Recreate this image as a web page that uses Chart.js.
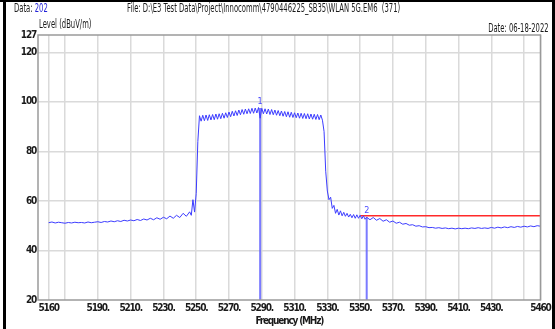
<!DOCTYPE html>
<html>
<head>
<meta charset="utf-8">
<script src="https://cdn.jsdelivr.net/npm/chart.js@4/dist/chart.umd.min.js"></script>
<style>
  html, body { margin: 0; padding: 0; background: #fff; }
  #wrap { position: relative; width: 555px; height: 329px; overflow: hidden; background: #fff; }
  canvas { position: absolute; left: 0; top: 0; }
  .t { position: absolute; font-family: "Liberation Sans Narrow", "DejaVu Sans Condensed", "Liberation Sans", sans-serif; font-size: 11.5px; color: #1a1a1a; white-space: pre; line-height: 13px; transform: scaleX(0.66); transform-origin: 0 50%; }
  .bar { position: absolute; background: #000; }
</style>
</head>
<body>
<div id="wrap">
  <canvas id="c" width="555" height="329"></canvas>
  <div class="bar" style="left:0;top:0;width:555px;height:2px;"></div>
  <div class="bar" style="left:3px;top:0;width:3px;height:329px;"></div>
  <div class="bar" style="left:552px;top:0;width:3px;height:329px;"></div>
  <div class="t" style="left:14px;top:2px;">Data: <span style="color:#2323d8">202</span></div>
  <div class="t" style="left:127px;top:2px;">File: D:\E3 Test Data\Project\Innocomm\4790446225_SB35\WLAN 5G.EM6  (371)</div>
  <div class="t" style="right:6px;top:22px;transform-origin:100% 50%;">Date: 06-18-2022</div>
  <div class="t" style="left:39px;top:18px;">Level (dBuV/m)</div>
</div>
<script>
// ---- data ----
const traceFreq = [
  5160,5162,5164,5166,5168,5170,5172,5174,5176,5178,5180,5182,5184,5186,5188,
  5190,5192,5194,5196,5198,5200,5202,5204,5206,5208,5210,5212,5214,5216,5218,
  5220,5222,5224,5226,5228,5230,5232,5234,5236,5238,5240,5242,5244,5246,5247,
  5248,5249,5250,5251,
  5252,5253,5254,5255,5256,5257,5258,5259,5260,5261,5262,5263,5264,5265,5266,
  5267,5268,5269,5270,5271,5272,5273,5274,5275,5276,5277,5278,5279,5280,5281,
  5282,5283,5284,5285,5286,5287,5288,5289,5290,5291,5292,5293,5294,5295,5296,
  5297,5298,5299,5300,5301,5302,5303,5304,5305,5306,5307,5308,5309,5310,5311,
  5312,5313,5314,5315,5316,5317,5318,5319,5320,5321,5322,5323,5324,5325,5326,
  5327,5328,5329,5330,5331,5332,5333,5334,5335,5336,5337,5338,5339,5340,5341,
  5342,5343,5344,5345,5346,5347,5348,5349,5350,5351,5352,5353,5354,
  5356,5358,5360,5362,5364,5366,5368,5370,5372,5374,5376,5378,5380,5382,5384,
  5386,5388,5390,5392,5394,5396,5398,5400,5402,5404,5406,5408,5410,5412,5414,
  5416,5418,5420,5422,5424,5426,5428,5430,5432,5434,5436,5438,5440,5442,5444,
  5446,5448,5450,5452,5454,5456,5458,5460
];
const traceLevel = [
  51.2,51.5,51.1,51.4,51.2,51.0,51.3,51.1,51.4,51.2,51.3,51.1,51.5,51.2,51.4,
  51.6,51.3,51.7,51.5,51.9,51.6,52.0,51.7,52.2,51.9,52.3,52.0,52.5,52.1,52.7,
  52.3,53.0,52.4,53.2,52.6,53.4,52.8,53.9,53.0,54.2,53.3,55.0,53.8,55.6,54.2,
  60.5,55.5,63.0,84.0,
  94.4,92.2,94.6,92.4,94.7,92.5,94.8,92.7,94.9,92.8,95.1,93.0,95.2,93.2,95.4,
  93.4,95.6,93.7,95.9,94.0,96.2,94.3,96.4,94.5,96.7,94.8,96.9,95.0,97.1,95.2,
  97.2,95.3,97.4,95.4,97.5,95.5,97.7,93.4,97.4,95.2,97.2,95.1,97.1,94.9,96.9,
  94.8,96.7,94.6,96.5,94.4,96.3,94.2,96.1,94.0,96.0,93.8,95.8,93.7,95.6,93.6,
  95.5,93.4,95.4,93.3,95.3,93.2,95.2,93.1,95.1,93.0,95.0,92.9,94.9,92.8,94.7,
  92.6,88.0,72.0,64.0,60.5,61.5,57.0,58.2,55.0,56.6,54.3,56.0,54.0,55.4,53.8,
  55.0,53.5,54.6,53.2,54.5,53.0,54.4,53.0,54.2,52.8,54.0,52.6,53.4,
  52.4,53.3,52.2,52.9,51.8,52.4,51.4,51.9,51.0,51.4,50.6,50.9,50.2,50.4,49.8,
  50.0,49.5,49.6,49.2,49.3,49.0,49.2,48.9,49.1,48.8,49.0,48.7,49.0,48.8,49.0,
  48.8,49.1,48.9,49.2,48.9,49.1,48.9,49.3,49.0,49.4,49.1,49.5,49.2,49.6,49.3,
  49.7,49.4,49.8,49.5,49.9,49.6,50.0,49.8
];
const markerName  = ['1', '2'];
const markerFreq  = [5289, 5354];
const markerLevel = [97.5, 53.4];
const limitFreq   = [5350, 5460];
const limitLevel  = [54, 54];
const xTicks      = [5160,5170,5190,5210,5230,5250,5270,5290,5310,5330,5350,5370,5390,5410,5430,5450,5460];
const xTickLabels = ['5160','','5190.','5210.','5230.','5250.','5270.','5290.','5310.','5330.','5350.','5370.','5390.','5410.','5430.','','5460'];
const yTicks      = [20,40,60,80,100,120,127];

// ---- chart ----
const FONT = '"Liberation Sans Narrow", "DejaVu Sans Condensed", "Liberation Sans", sans-serif';
const traceData = traceFreq.map((f, i) => ({x: f, y: traceLevel[i]}));
const markerSets = markerFreq.map((f, i) => ({
  data: [{x: f, y: yTicks[0]}, {x: f, y: markerLevel[i]}],
  borderColor: 'rgba(100,100,255,0.85)', borderWidth: 2, pointRadius: 0, showLine: true
}));
const limitSet = {
  data: limitFreq.map((f, i) => ({x: f, y: limitLevel[i]})),
  borderColor: '#ff2a2a', borderWidth: 1.5, pointRadius: 0, showLine: true
};

const framePlugin = {
  id: 'frame',
  beforeDraw(chart) { chart.ctx.letterSpacing = '-1.2px'; },
  afterDraw(chart) {
    const {ctx, chartArea: a, scales} = chart;
    ctx.save();
    ctx.letterSpacing = '0px';
    ctx.strokeStyle = '#9a9a9a';
    ctx.lineWidth = 1.5;
    ctx.strokeRect(a.left, a.top, a.right - a.left, a.bottom - a.top);
    ctx.fillStyle = '#4a4aff';
    ctx.font = '9px ' + FONT;
    ctx.textAlign = 'center';
    ctx.textBaseline = 'bottom';
    markerFreq.forEach((f, i) => {
      const x = scales.x.getPixelForValue(f);
      const y = scales.y.getPixelForValue(markerLevel[i]);
      ctx.fillText(markerName[i], x, y - 2);
    });
    ctx.restore();
  }
};

new Chart(document.getElementById('c'), {
  type: 'scatter',
  data: {
    datasets: [
      { data: traceData, borderColor: '#3c3cff', borderWidth: 1, pointRadius: 0, showLine: true, tension: 0 },
      ...markerSets,
      limitSet
    ]
  },
  options: {
    responsive: false,
    animation: false,
    events: [],
    layout: { padding: { left: 0, top: 35, right: 12, bottom: 0 } },
    plugins: { legend: { display: false }, tooltip: { enabled: false } },
    scales: {
      x: {
        type: 'linear', min: 5153.5, max: 5460,
        afterBuildTicks(s) { s.ticks = xTicks.map(v => ({value: v})); },
        afterFit(s) { s.height = 29; },
        ticks: {
          autoSkip: false, maxRotation: 0, padding: 2, color: '#1a1a1a',
          font: { family: FONT, size: 10, weight: 'bold' },
          callback: (v, i) => xTickLabels[i]
        },
        grid: { color: '#dadada', lineWidth: 1.5, drawTicks: false },
        border: { display: false },
        title: { display: true, text: 'Frequency (MHz)', color: '#1a1a1a', padding: {top: 0, bottom: 2},
                 font: { family: FONT, size: 10, weight: 'bold' } }
      },
      y: {
        type: 'linear', min: 20, max: 127,
        afterBuildTicks(s) { s.ticks = yTicks.map(v => ({value: v})); },
        afterFit(s) { s.width = 38; },
        ticks: {
          autoSkip: false, padding: 2, color: '#1a1a1a',
          font: { family: FONT, size: 10, weight: 'bold' },
          callback: v => String(v)
        },
        grid: {
          drawTicks: false, lineWidth: 1.5,
          color: c => (c.tick && (c.tick.value === 20 || c.tick.value === 127)) ? 'rgba(0,0,0,0)' : '#dadada'
        },
        border: { display: false }
      }
    }
  },
  plugins: [framePlugin]
});
</script>
</body>
</html>
